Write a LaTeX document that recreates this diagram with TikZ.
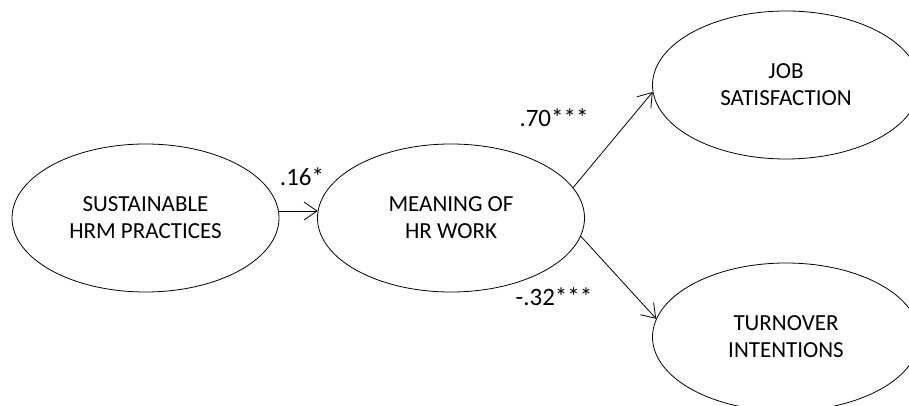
\documentclass[tikz,border=0pt]{standalone}
\usepackage{fontspec}
\setmainfont{Carlito}
\usepackage{tikz}
\usetikzlibrary{arrows.meta,shapes.geometric}
\tikzstyle{latent} = [draw, ellipse, line width=0.8pt, inner sep=0pt,
    minimum width=267pt, minimum height=148pt, align=center,
    font=\fontsize{23}{27}\selectfont]
\tikzstyle{coef} = [inner sep=0pt, font=\fontsize{25}{28}\selectfont]
\tikzstyle{path} = [->, line width=0.8pt]

\begin{document}
\begin{tikzpicture}[x=1pt, y=-1pt, >={Straight Barb[length=13pt,width=18pt]}]
    \useasboundingbox (0,0) rectangle (909,406);
    \clip (0,0) rectangle (909,406);
    \node [latent] (sust) at (145.5,218) {SUSTAINABLE\\HRM PRACTICES};
    \node [latent, right of=sust, node distance=305.5pt] (mean) {MEANING OF\\HR WORK};
    \node [latent, right of=mean, node distance=335pt, yshift=133pt] (job) {JOB\\SATISFACTION};
    \node [latent, right of=mean, node distance=335pt, yshift=-119pt] (turn) {TURNOVER\\INTENTIONS};
    \node [coef] (b1) at (302,177) {.16*};
    \node [coef] (b2) at (554,118) {.70***};
    \node [coef] (b3) at (554,297) {-.32***};
    \draw [path] (sust.3) -- (mean.177);
    \draw [path] (mean.14) -- (job.183.5);
    \draw [path] (mean.-8.7) -- (turn.172.7);
\end{tikzpicture}
\end{document}
